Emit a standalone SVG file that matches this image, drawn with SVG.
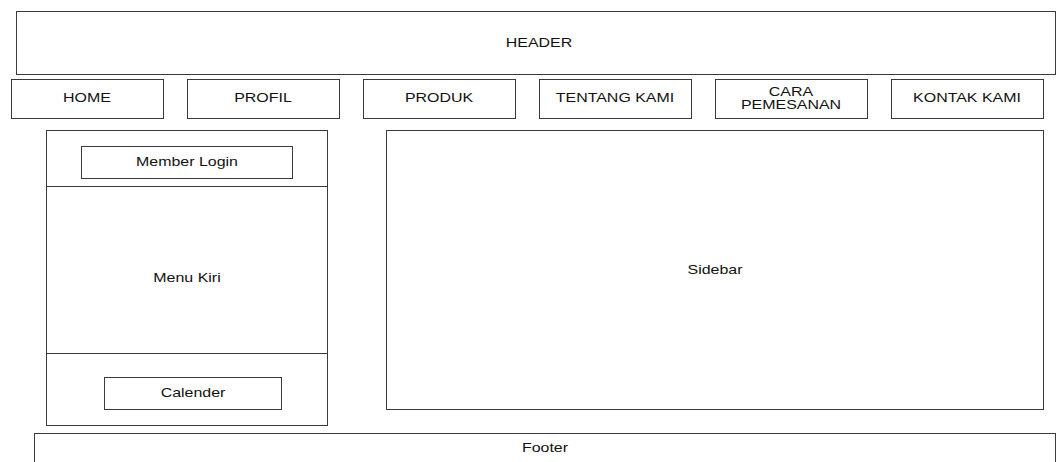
<svg xmlns="http://www.w3.org/2000/svg" width="1056" height="462" viewBox="0 0 1056 462">
<style>
rect{fill:#fff;stroke:#3a3a3a;stroke-width:1}
line{stroke:#3a3a3a;stroke-width:1}
text{font-family:"Liberation Sans",Arial,sans-serif;font-size:12px;fill:#111;text-anchor:middle}
</style>
<rect x="0" y="0" width="1056" height="462" style="stroke:none"/>
<g id="header"><rect x="16.5" y="11.5" width="1039" height="63"/><text transform="translate(539,47) scale(1.33,1)">HEADER</text></g>
<g id="nav-home"><rect x="11.5" y="79.5" width="152" height="39"/><text transform="translate(87,102) scale(1.33,1)">HOME</text></g>
<g id="nav-profil"><rect x="187.5" y="79.5" width="152" height="39"/><text transform="translate(263,102) scale(1.33,1)">PROFIL</text></g>
<g id="nav-produk"><rect x="363.5" y="79.5" width="152" height="39"/><text transform="translate(439,102) scale(1.33,1)">PRODUK</text></g>
<g id="nav-tentang"><rect x="539.5" y="79.5" width="152" height="39"/><text transform="translate(615,102) scale(1.33,1)">TENTANG KAMI</text></g>
<g id="nav-cara"><rect x="715.5" y="79.5" width="152" height="39"/><text transform="translate(791,96) scale(1.33,1)">CARA</text><text transform="translate(791,108.5) scale(1.33,1)">PEMESANAN</text></g>
<g id="nav-kontak"><rect x="891.5" y="79.5" width="152" height="39"/><text transform="translate(967,102) scale(1.33,1)">KONTAK KAMI</text></g>
<g id="left-panel"><rect x="46.5" y="130.5" width="281" height="295"/>
<line x1="46.5" y1="186.5" x2="327.5" y2="186.5"/>
<line x1="46.5" y1="353.5" x2="327.5" y2="353.5"/>
<text transform="translate(187,282) scale(1.33,1)">Menu Kiri</text></g>
<g id="member-login"><rect x="81.5" y="146.5" width="211" height="32"/><text transform="translate(187,166) scale(1.33,1)">Member Login</text></g>
<g id="calender"><rect x="104.5" y="377.5" width="177" height="32"/><text transform="translate(193,397) scale(1.33,1)">Calender</text></g>
<g id="sidebar"><rect x="386.5" y="130.5" width="657" height="279"/><text transform="translate(715,274) scale(1.33,1)">Sidebar</text></g>
<g id="footer"><rect x="34.5" y="433.5" width="1021" height="40"/><text transform="translate(545,452) scale(1.33,1)">Footer</text></g>
<g id="connectors"></g>
</svg>
